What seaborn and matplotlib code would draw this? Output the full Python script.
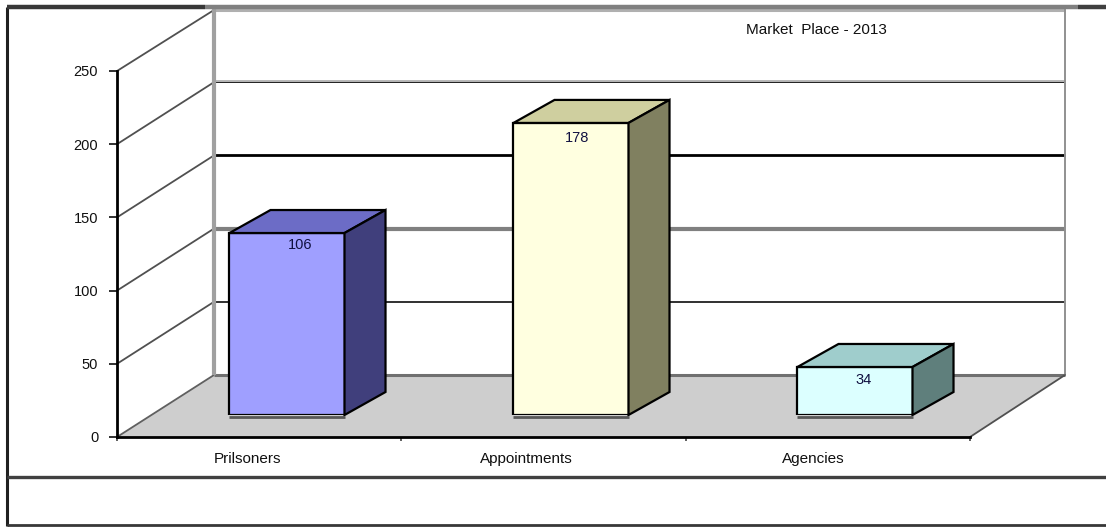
import matplotlib
matplotlib.use("Agg")
import matplotlib.pyplot as plt
import seaborn as sns

# 데이터
categories = ["Prilsoners", "Appointments", "Agencies"]
bar_labels = ["106", "178", "34"]
bar_heights = [124.3, 199.5, 32.8]
y_ticks = [0, 50, 100, 150, 200, 250]
front_colors = ["#9f9fff", "#ffffe0", "#dcffff"]
top_colors = ["#6c6cc6", "#cfcf9f", "#9fcdcc"]
side_colors = ["#403f7c", "#808060", "#5f7f7c"]
title_text = "Market  Place - 2013"

W, H = 1106, 527
sns.set_theme(style="white")
plt.rcParams["font.family"] = ["Liberation Sans", "DejaVu Sans"]

fig = plt.figure(figsize=(W / 100, H / 100), dpi=100, facecolor="white")


def px_axes(left, top, right, bottom):
    return fig.add_axes([left / W, 1 - bottom / H, (right - left) / W, (bottom - top) / H])


# 1. 벽, 바닥, 바깥 틀 (픽셀 좌표)
bg = fig.add_axes([0, 0, 1, 1], zorder=0)
bg.set_xlim(0, W)
bg.set_ylim(H, 0)
bg.axis("off")

bg.fill([117, 214, 1065, 970], [437, 375, 375, 437], color="#cecece", lw=0)

scale = 366 / 250
grid_style = [("#707070", 2.2), ("#303030", 1.4), ("#808080", 3), ("#000000", 2), ("#202020", 1.4), ("#b0b0b0", 2.2)]
for tick, (col, lw) in zip(y_ticks, grid_style):
    y_front = 437 - tick * scale
    y_back = 375 - tick * scale + (1 if tick == 250 else 0)
    bg.plot([117, 214], [y_front, y_back], color="#505050" if tick else "#606060", lw=1.3, solid_capstyle="butt")
    bg.plot([214, 1065], [y_back, y_back], color=col, lw=lw, solid_capstyle="butt")
bg.plot([214, 1065], [80.6, 80.6], color="#b8b8b8", lw=1.4, solid_capstyle="butt")
bg.plot([214, 214], [9, 375], color="#a0a0a0", lw=3, solid_capstyle="butt")
bg.plot([1065, 1065], [9, 375], color="#909090", lw=1.4, solid_capstyle="butt")
bg.plot([970, 1065], [437, 375], color="#505050", lw=1.3)

# 바깥 틀
bg.plot([7, 7], [7, 526], color="#202020", lw=2.2, solid_capstyle="butt")
bg.plot([7, 205], [7, 7], color="#383838", lw=3.2, solid_capstyle="butt")
bg.plot([205, 1078], [7, 7], color="#808080", lw=3.2, solid_capstyle="butt")
bg.plot([1078, W], [7, 7], color="#404040", lw=3.2, solid_capstyle="butt")
bg.plot([7, W], [477, 477], color="#404040", lw=2.4, solid_capstyle="butt")
bg.plot([7, W], [525, 525], color="#383838", lw=2, solid_capstyle="butt")

# 2. 앞쪽 축 (눈금)
ax = px_axes(117, 71, 970, 437)
ax.patch.set_alpha(0)
ax.set_zorder(1)
ax.set_xlim(-0.5, 2.5)
ax.set_ylim(0, 250)
for side in ["top", "right"]:
    ax.spines[side].set_visible(False)
for side in ["left", "bottom"]:
    ax.spines[side].set_linewidth(2)
    ax.spines[side].set_color("black")
ax.set_yticks(y_ticks)
ax.set_yticklabels([str(t) for t in y_ticks], fontsize=10.5, color="#101010")
ax.tick_params(axis="y", left=True, length=5.5, width=1.4, color="#303030", pad=8)
ax.set_xticks([-0.5, 0.5, 1.5, 2.5])
ax.set_xticklabels([])
ax.tick_params(axis="x", bottom=True, length=3, width=1.4, color="#606060")
ax.set_xticks([-0.04, 0.94, 1.95], minor=True)
ax.set_xticklabels(categories, minor=True, fontsize=11, color="#101010")
ax.tick_params(axis="x", which="minor", bottom=False, pad=7)

# 3. 막대 (앞면은 seaborn, 옆면/윗면은 막대에서 계산)
ax_bars = px_axes(145, 49, 997, 415)
ax_bars.patch.set_alpha(0)
ax_bars.set_zorder(2)
sns.barplot(x=categories, y=bar_heights, hue=categories, palette=front_colors, width=0.405,
            saturation=1, edgecolor="black", linewidth=1.6, legend=False, ax=ax_bars)
ax_bars.set_xlim(-0.5, 2.5)
ax_bars.set_ylim(0, 250)
ax_bars.axis("off")

dx = 41 / (852 / 3)
dy = 23 / scale
label_shift = [(13, 12), (6, 15), (9, 13)]
for bar, label, top_col, side_col, shift in zip(ax_bars.patches, bar_labels, top_colors, side_colors, label_shift):
    x0 = bar.get_x()
    x1 = x0 + bar.get_width()
    h = bar.get_height()
    ax_bars.fill([x0, x0 + dx, x1 + dx, x1], [h, h + dy, h + dy, h], facecolor=top_col,
                 edgecolor="black", lw=1.6, clip_on=False)
    ax_bars.fill([x1, x1 + dx, x1 + dx, x1], [0, dy, h + dy, h], facecolor=side_col,
                 edgecolor="black", lw=1.6, clip_on=False)
    ax_bars.plot([x0, x1], [-1.2, -1.2], color="#585858", lw=2, clip_on=False, solid_capstyle="butt")
    ax_bars.annotate(label, xy=((x0 + x1) / 2, h), xytext=(shift[0] * 0.72, -shift[1] * 0.72),
                     textcoords="offset points", ha="center", va="center", fontsize=10.5, color="#101040")

# 제목
bg.text(816, 30, title_text, ha="center", va="center", fontsize=11, color="#101010")

fig.savefig("out.png", dpi=100)
